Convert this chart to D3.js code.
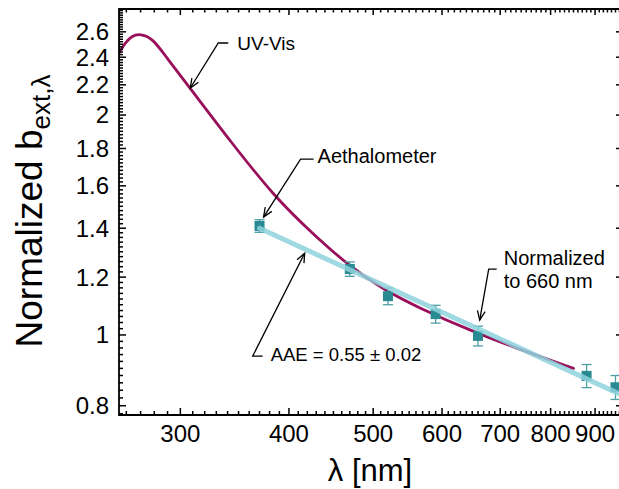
<!DOCTYPE html>
<html>
<head>
<meta charset="utf-8">
<script src="https://cdn.jsdelivr.net/npm/d3@7"></script>
<style>
  body { margin: 0; background: #fff; }
  svg { display: block; font-family: "Liberation Sans", Arial, Helvetica, sans-serif; }
</style>
</head>
<body>
<svg id="chart" width="619" height="489"></svg>
<script>
// UV-Vis spectrum (normalized)
var uvLambda = [255, 259, 264, 270, 279, 289, 308, 342, 386, 425, 468, 513, 566, 652, 731, 850]
var uvValue = [2.43, 2.51, 2.57, 2.585, 2.545, 2.40, 2.175, 1.845, 1.54, 1.38, 1.245, 1.155, 1.087, 1.010, 0.959, 0.900]

// Aethalometer channels
var aethLambda = [370, 470, 520, 590, 660, 880, 950]
var aethValue = [1.41, 1.231, 1.13, 1.068, 0.997, 0.879, 0.848]
var aethErr = [0.028, 0.028, 0.03, 0.03, 0.031, 0.032, 0.032]

// power-law fit, AAE = 0.55 (end points)
var fitLambda = [370, 965]
var fitValue = [1.40, 0.828]

var xTickLabels = [300, 400, 500, 600, 700, 800, 900]
var yTickLabels = [0.8, 1, 1.2, 1.4, 1.6, 1.8, 2, 2.2, 2.4, 2.6]

// annotations: text lines and the data point the arrow points to
var noteText = [['UV-Vis'], ['Aethalometer'], ['Normalized', 'to 660 nm'], ['AAE = 0.55 \u00b1 0.02']]
var noteLambda = [308, 374, 663, 417]
var noteValue = [2.178, 1.45, 1.048, 1.294]

var pLeft = 119, pRight = 621, pTop = 9, pBottom = 415

var x = d3.scaleLog().domain([255, 964]).range([pLeft, pRight])
var y = d3.scaleLog().domain([0.777, 2.794]).range([pBottom, pTop])

var svg = d3.select('#chart')

svg.append('defs').append('clipPath').attr('id', 'plot')
  .append('rect')
  .attr('x', pLeft).attr('y', pTop)
  .attr('width', pRight - pLeft).attr('height', pBottom - pTop)

var plot = svg.append('g').attr('clip-path', 'url(#plot)')

// UV-Vis curve
var line = d3.line()
  .x(function(d) { return x(d[0]) })
  .y(function(d) { return y(d[1]) })
  .curve(d3.curveBasis)

plot.append('path')
  .datum(uvLambda.map(function(l, i) { return [l, uvValue[i]] }))
  .attr('d', line)
  .attr('fill', 'none')
  .attr('stroke', '#9a0f5c')
  .attr('stroke-width', 2.8)
  .attr('stroke-linecap', 'round')

// aethalometer points with error bars
var pts = aethLambda.map(function(l, i) { return { l: l, v: aethValue[i], e: aethErr[i] } })

var eb = plot.append('g').attr('stroke', '#4e9fa6').attr('stroke-width', 1.3)
pts.forEach(function(d) {
  var cx = x(d.l), y0 = y(d.v - d.e), y1 = y(d.v + d.e)
  eb.append('line').attr('x1', cx).attr('x2', cx).attr('y1', y0).attr('y2', y1)
  eb.append('line').attr('x1', cx - 5).attr('x2', cx + 5).attr('y1', y0).attr('y2', y0)
  eb.append('line').attr('x1', cx - 5).attr('x2', cx + 5).attr('y1', y1).attr('y2', y1)
})

plot.append('g').selectAll('rect')
  .data(pts)
  .enter().append('rect')
  .attr('x', function(d) { return x(d.l) - 5 })
  .attr('y', function(d) { return y(d.v) - 5 })
  .attr('width', 10)
  .attr('height', 10)
  .attr('fill', '#2a8a92')

// fit line
plot.append('path')
  .datum(fitLambda.map(function(l, i) { return [l, fitValue[i]] }))
  .attr('d', d3.line().x(function(d) { return x(d[0]) }).y(function(d) { return y(d[1]) }))
  .attr('stroke', '#8ed2dc')
  .attr('stroke-opacity', 0.85)
  .attr('stroke-width', 5)
  .attr('stroke-linecap', 'round')
  .attr('fill', 'none')

// frame and ticks
var axes = svg.append('g').attr('stroke', '#000').attr('fill', 'none')

axes.append('path')
  .attr('d', 'M' + pRight + ',' + pTop + 'H' + pLeft + 'V' + pBottom + 'H' + pRight + 'V' + pTop)
  .attr('stroke-width', 1.8)

var xMinor = d3.range(260, 970, 10)
xMinor.forEach(function(v) {
  var major = v % 100 === 0
  var len = major ? 7 : 4
  axes.append('line').attr('x1', x(v)).attr('x2', x(v))
    .attr('y1', pBottom).attr('y2', pBottom - len).attr('stroke-width', 1.5)
  axes.append('line').attr('x1', x(v)).attr('x2', x(v))
    .attr('y1', pTop).attr('y2', pTop + (major ? 6 : 3.5)).attr('stroke-width', 1.5)
})

var yMinor = d3.range(78, 280, 2).map(function(v) { return v / 100 })
yMinor.forEach(function(v) {
  var major = Math.round(v * 100) % 20 === 0
  axes.append('line').attr('x1', pLeft).attr('x2', pLeft + (major ? 7 : 4))
    .attr('y1', y(v)).attr('y2', y(v)).attr('stroke-width', 1.5)
})
yTickLabels.forEach(function(v) {
  axes.append('line').attr('x1', pRight).attr('x2', pRight - 5)
    .attr('y1', y(v)).attr('y2', y(v)).attr('stroke-width', 1.5)
})

// tick labels
svg.append('g').selectAll('text')
  .data(xTickLabels)
  .enter().append('text')
  .attr('x', function(d) { return x(d) })
  .attr('y', 442)
  .attr('text-anchor', 'middle')
  .style('font-size', '24px')
  .text(function(d) { return d })

svg.append('g').selectAll('text')
  .data(yTickLabels)
  .enter().append('text')
  .attr('x', 109)
  .attr('y', function(d) { return y(d) })
  .attr('dy', '0.35em')
  .attr('text-anchor', 'end')
  .style('font-size', '24px')
  .text(function(d) { return d })

// axis titles
svg.append('text')
  .attr('x', 370)
  .attr('y', 481)
  .attr('text-anchor', 'middle')
  .style('font-size', '31px')
  .text('\u03bb [nm]')

var yt = svg.append('text')
  .attr('transform', 'translate(42,211) rotate(-90)')
  .attr('text-anchor', 'middle')
  .style('font-size', '37px')
yt.append('tspan').text('Normalized b')
yt.append('tspan').attr('dy', 8).style('font-size', '26px').text('ext,\u03bb')

// annotations
var noteLayout = [
  { elbow: [28, -45], end: [38, -45], text: [47, -38], size: 19 },
  { elbow: [37, -58], end: [50, -58], text: [54, -54], size: 20 },
  { elbow: [9, -51], end: [17, -51], text: [24, -55], size: 20 },
  { elbow: [-52, 103], end: [-42, 103], text: [-34, 108], size: 18.5 }
]

var notes = svg.append('g')
noteText.forEach(function(lines, i) {
  var tx = x(noteLambda[i]), ty = y(noteValue[i])
  var L = noteLayout[i]
  var ex = tx + L.elbow[0], ey = ty + L.elbow[1]
  notes.append('path')
    .attr('d', 'M' + (tx + L.end[0]) + ',' + (ty + L.end[1]) + 'L' + ex + ',' + ey + 'L' + tx + ',' + ty)
    .attr('fill', 'none').attr('stroke', '#000').attr('stroke-width', 1.3)
  var ang = Math.atan2(ey - ty, ex - tx), a = 0.4, len = 10
  notes.append('path')
    .attr('d', 'M' + (tx + len * Math.cos(ang - a)) + ',' + (ty + len * Math.sin(ang - a)) +
      'L' + tx + ',' + ty +
      'L' + (tx + len * Math.cos(ang + a)) + ',' + (ty + len * Math.sin(ang + a)))
    .attr('fill', 'none').attr('stroke', '#000').attr('stroke-width', 1.3)
  var t = notes.append('text')
    .attr('x', tx + L.text[0])
    .attr('y', ty + L.text[1])
    .style('font-size', L.size + 'px')
  lines.forEach(function(s, j) {
    t.append('tspan').attr('x', tx + L.text[0]).attr('dy', j === 0 ? 0 : 23).text(s)
  })
})
</script>
</body>
</html>
